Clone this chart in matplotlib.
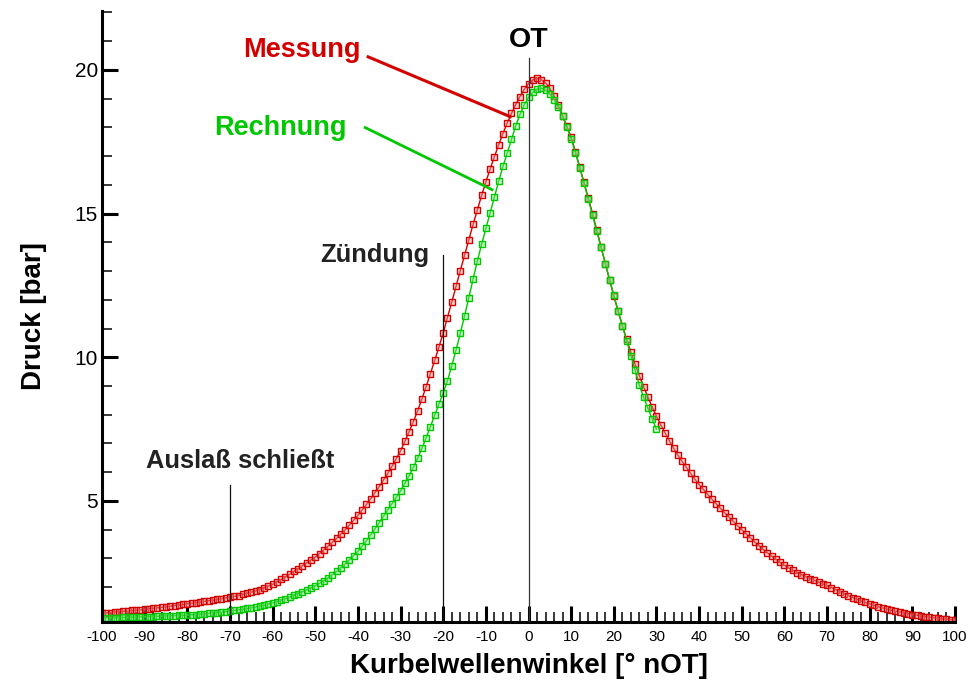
import matplotlib
import numpy as np
from matplotlib import pyplot as plt

matplotlib.use("Agg")

plt.rcParams["font.family"] = ["Liberation Sans", "DejaVu Sans"]
plt.rcParams["axes.unicode_minus"] = False

# Crank angle in degrees relative to TDC (OT)
ANGLE_MESSUNG = list(range(-100, 101))
ANGLE_RECHNUNG = list(range(-100, 31))

# Measured cylinder pressure [bar], one value per degree
DRUCK_MESSUNG = [
    1.10, 1.11, 1.12, 1.14, 1.15, 1.16, 1.17, 1.19, 1.20, 1.21,   # -100 .. -91
    1.23, 1.25, 1.27, 1.28, 1.30, 1.32, 1.34, 1.36, 1.38, 1.40,   # -90 .. -81
    1.42, 1.44, 1.46, 1.48, 1.51, 1.53, 1.55, 1.58, 1.60, 1.63,   # -80 .. -71
    1.65, 1.68, 1.71, 1.75, 1.79, 1.83, 1.87, 1.92, 1.98, 2.04,   # -70 .. -61
    2.10, 2.18, 2.27, 2.36, 2.45, 2.55, 2.65, 2.75, 2.85, 2.95,   # -60 .. -51
    3.05, 3.17, 3.30, 3.43, 3.56, 3.70, 3.85, 4.00, 4.16, 4.33,   # -50 .. -41
    4.50, 4.69, 4.88, 5.08, 5.29, 5.50, 5.73, 5.96, 6.21, 6.47,   # -40 .. -31
    6.75, 7.07, 7.41, 7.76, 8.14, 8.55, 8.98, 9.43, 9.89, 10.36,  # -30 .. -21
    10.85, 11.38, 11.92, 12.47, 13.01, 13.55, 14.09, 14.62, 15.13, 15.63,  # -20 .. -11
    16.10, 16.55, 16.98, 17.39, 17.78, 18.15, 18.48, 18.79, 19.07, 19.32,  # -10 .. -1
    19.52, 19.65, 19.70, 19.66, 19.55, 19.35, 19.08, 18.76, 18.40, 18.03,  # 0 .. 9
    17.65, 17.15, 16.62, 16.08, 15.54, 15.00, 14.42, 13.84, 13.26, 12.69,  # 10 .. 19
    12.13, 11.60, 11.10, 10.62, 10.17, 9.75, 9.35, 8.97, 8.61, 8.27,  # 20 .. 29
    7.95, 7.65, 7.37, 7.10, 6.84, 6.60, 6.38, 6.17, 5.96, 5.76,   # 30 .. 39
    5.57, 5.40, 5.23, 5.06, 4.90, 4.74, 4.59, 4.44, 4.29, 4.14,   # 40 .. 49
    4.00, 3.86, 3.72, 3.58, 3.45, 3.32, 3.20, 3.08, 2.97, 2.86,   # 50 .. 59
    2.76, 2.67, 2.59, 2.51, 2.44, 2.37, 2.30, 2.24, 2.18, 2.12,   # 60 .. 69
    2.06, 1.99, 1.92, 1.85, 1.78, 1.71, 1.64, 1.58, 1.52, 1.47,   # 70 .. 79
    1.42, 1.37, 1.32, 1.28, 1.24, 1.20, 1.17, 1.14, 1.11, 1.08,   # 80 .. 89
    1.05, 1.03, 1.00, 0.98, 0.96, 0.94, 0.92, 0.90, 0.89, 0.87,   # 90 .. 99
    0.86,                                                         # 100
]

# Simulated cylinder pressure [bar]
DRUCK_RECHNUNG = [
    0.93, 0.93, 0.94, 0.94, 0.94, 0.95, 0.95, 0.96, 0.96, 0.97,   # -100 .. -91
    0.97, 0.98, 0.98, 0.99, 0.99, 1.00, 1.01, 1.01, 1.02, 1.02,   # -90 .. -81
    1.03, 1.04, 1.05, 1.06, 1.07, 1.09, 1.10, 1.12, 1.13, 1.15,   # -80 .. -71
    1.17, 1.19, 1.21, 1.23, 1.26, 1.28, 1.31, 1.34, 1.37, 1.41,   # -70 .. -61
    1.45, 1.50, 1.55, 1.60, 1.66, 1.72, 1.78, 1.84, 1.91, 1.98,   # -60 .. -51
    2.05, 2.14, 2.23, 2.33, 2.44, 2.55, 2.68, 2.81, 2.95, 3.10,   # -50 .. -41
    3.25, 3.43, 3.62, 3.82, 4.03, 4.25, 4.47, 4.69, 4.91, 5.13,   # -40 .. -31
    5.35, 5.61, 5.88, 6.17, 6.49, 6.83, 7.20, 7.59, 7.99, 8.38,   # -30 .. -21
    8.76, 9.19, 9.70, 10.25, 10.83, 11.44, 12.07, 12.72, 13.35, 13.93,  # -20 .. -11
    14.48, 15.03, 15.58, 16.12, 16.64, 17.10, 17.58, 18.05, 18.45, 18.78,  # -10 .. -1
    19.04, 19.22, 19.33, 19.36, 19.30, 19.16, 18.96, 18.70, 18.38, 18.00,  # 0 .. 9
    17.60, 17.12, 16.60, 16.06, 15.50, 14.94, 14.38, 13.82, 13.26, 12.70,  # 10 .. 19
    12.15, 11.62, 11.10, 10.58, 10.06, 9.55, 9.02, 8.60, 8.22, 7.85,  # 20 .. 29
    7.50,                                                         # 30
]

ROT = "#d40000"
GRUEN = "#00c800"


def marker_curve(ax, x, y, color, face):
    ax.plot(x, y, color=color, lw=1.0, marker="s", markersize=4.8,
            markerfacecolor=face, markeredgecolor=color, markeredgewidth=1.0)


fig = plt.figure(figsize=(9.68, 6.8), dpi=100)
ax = fig.add_axes([0.1054, 0.0853, 0.8812, 0.8987])

marker_curve(ax, ANGLE_MESSUNG, DRUCK_MESSUNG, ROT, (0.95, 0.6, 0.6, 0.45))
marker_curve(ax, ANGLE_RECHNUNG, DRUCK_RECHNUNG, GRUEN, (0.5, 0.9, 0.5, 0.45))

# Event markers: exhaust closes, ignition, TDC
ax.plot([-70, -70], [0, 5.56], color="#111111", lw=0.9, zorder=5)
ax.plot([-20, -20], [0, 13.56], color="#111111", lw=0.9, zorder=5)
ax.plot([0, 0], [0, 20.41], color="#333333", lw=0.9, zorder=5)

ax.text(-67.6, 6.39, "Auslaß schließt", ha="center", va="center",
        fontsize=18.4, fontweight="bold", color="#222222")
ax.text(-36.0, 13.56, "Zündung", ha="center", va="center",
        fontsize=18.4, fontweight="bold", color="#222222")
ax.text(0, 21.03, "OT", ha="center", va="center",
        fontsize=20.5, fontweight="bold", color="black")

# Curve labels with pointer lines
ax.text(-53.1, 20.69, "Messung", ha="center", va="center",
        fontsize=19.5, fontweight="bold", color=ROT)
ax.plot([-37.6, -4.3], [20.45, 18.37], color=ROT, lw=2.2)
ax.text(-58.3, 17.97, "Rechnung", ha="center", va="center",
        fontsize=19.5, fontweight="bold", color=GRUEN)
ax.plot([-38.3, -8.55], [17.99, 15.83], color=GRUEN, lw=2.0)

ax.set_xlim(-100, 100)
ax.set_ylim(0.79, 22.05)

ax.spines["top"].set_visible(False)
ax.spines["right"].set_visible(False)
ax.spines["left"].set_linewidth(2.2)
ax.spines["bottom"].set_linewidth(2.2)

ax.set_xticks(np.arange(-100, 101, 10))
ax.set_xticks(np.arange(-100, 101, 2), minor=True)
ax.set_yticks([5, 10, 15, 20])
ax.set_yticks(np.arange(1, 23, 1), minor=True)

ax.tick_params(axis="both", which="major", direction="in", length=11.5, width=2.2)
ax.tick_params(axis="both", which="minor", direction="in", length=7, width=1.1)
ax.tick_params(axis="x", which="major", labelsize=11, pad=6)
ax.tick_params(axis="y", which="major", labelsize=15, pad=3)

ax.set_xlabel("Kurbelwellenwinkel [° nOT]", fontsize=20, fontweight="bold", labelpad=6)
ax.set_ylabel("Druck [bar]", fontsize=20, fontweight="bold", labelpad=20)

fig.savefig("out.png", dpi=100)
